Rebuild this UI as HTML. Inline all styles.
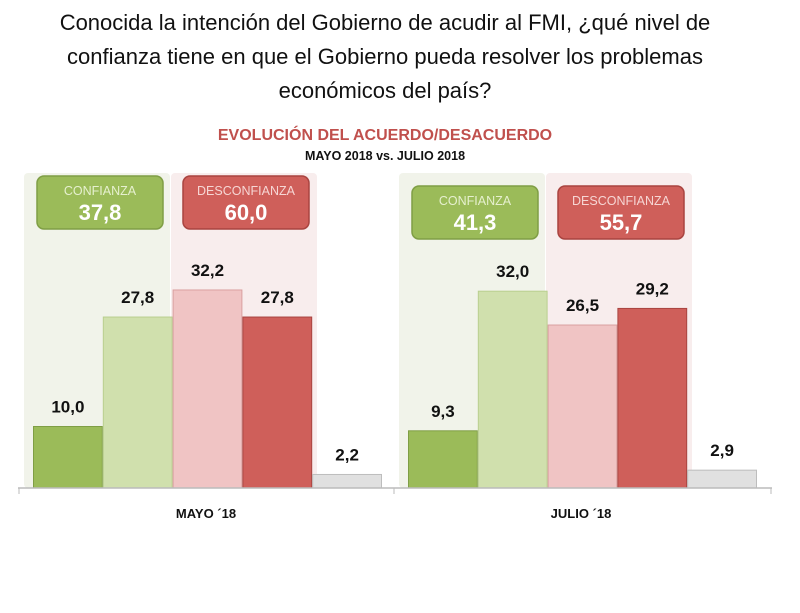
<!DOCTYPE html>
<html><head><meta charset="utf-8"><style>
body{margin:0;background:#fff;width:800px;height:608px;overflow:hidden;font-family:"Liberation Sans",sans-serif}
</style></head><body>
<svg width="800" height="608" font-family="Liberation Sans, sans-serif">
<g font-size="22" fill="#111" text-anchor="middle">
<text x="385" y="30">Conocida la intención del Gobierno de acudir al FMI, ¿qué nivel de</text>
<text x="385" y="64">confianza tiene en que el Gobierno pueda resolver los problemas</text>
<text x="385" y="98">económicos del país?</text>
</g>
<text x="385" y="140" text-anchor="middle" font-size="16" font-weight="bold" fill="#c0504d">EVOLUCIÓN DEL ACUERDO/DESACUERDO</text>
<text x="385" y="160" text-anchor="middle" font-size="12.5" font-weight="bold" fill="#111">MAYO 2018 vs. JULIO 2018</text>
<g id="panels"></g>
<g id="bars"></g>
<line x1="18" y1="488" x2="772" y2="488" stroke="#bbb" stroke-width="1.5"/>
<line x1="19" y1="488" x2="19" y2="494" stroke="#bbb"/><line x1="394" y1="488" x2="394" y2="494" stroke="#bbb"/><line x1="771" y1="488" x2="771" y2="494" stroke="#bbb"/>
<g id="labels"></g>
</svg>
<script>
const groups=["MAYO ´18","JULIO ´18"];
const confianza=[37.8,41.3];
const desconfianza=[60.0,55.7];
const mayoValues=[10.0,27.8,32.2,27.8,2.2];
const julioValues=[9.3,32.0,26.5,29.2,2.9];
const series=[mayoValues,julioValues];
const NS="http://www.w3.org/2000/svg";
const base=488, scale=6.15, barW=69.8;
const groupX=[33,408];
const fills=["#9bbb59","#d0e0ad","#f0c4c4","#cf5f5a","#e0e0e0"];
const strokes=["#7f9e45","#b9cf8f","#d9a0a0","#a94440","#bdbdbd"];
const y=v=>base-v*scale;
function mk(tag,attrs,parent){const e=document.createElementNS(NS,tag);for(const k in attrs)e.setAttribute(k,attrs[k]);parent.appendChild(e);return e;}
const P=document.getElementById('panels'),B=document.getElementById('bars'),L=document.getElementById('labels');
const fmt=v=>v.toFixed(1).replace('.',',');
groups.forEach((g,gi)=>{
  const gx=groupX[gi];
  const pg=mk('rect',{x:gx-9,y:173,width:146,height:315,rx:4,fill:'#f1f3ea'},P);
  
  
  const pr=mk('rect',{x:gx+138,y:173,width:146,height:315,rx:4,fill:'#f8eded'},P);
  
  
  const bxs=[[gx+4,'#9bbb59','#7f9e45','#e6f0cf','CONFIANZA',confianza[gi]],[gx+150,'#cf5f5a','#a94440','#f6d6d4','DESCONFIANZA',desconfianza[gi]]];
  const by=gi===0?176:186;
  bxs.forEach((b,bi)=>{
    const r=mk('rect',{x:b[0],y:by,width:126,height:53,rx:7,fill:b[1],stroke:b[2],'stroke-width':1.5},P);
    
    
    const t1=mk('text',{x:b[0]+63,y:by+19,'text-anchor':'middle','font-size':12.5,fill:b[3]},P);t1.textContent=b[4];
    
    
    const t2=mk('text',{x:b[0]+63,y:by+44,'text-anchor':'middle','font-size':22,'font-weight':'bold',fill:'#fff'},P);t2.textContent=fmt(b[5]);
    
    
  });
  series[gi].forEach((v,i)=>{
    const x=gx+i*barW;
    const r=mk('rect',{x:x+0.5,y:y(v),width:barW-1,height:v*scale,fill:fills[i],stroke:strokes[i],'stroke-width':1},B);
    
    
    const t=mk('text',{x:x+barW/2,y:y(v)-14,'text-anchor':'middle','font-size':17,'font-weight':'bold',fill:'#111'},L);t.textContent=fmt(v);
    
    
  });
  const gl=mk('text',{x:gx+173,y:518,'text-anchor':'middle','font-size':13,'font-weight':'bold',fill:'#111'},L);gl.textContent=g;
  
  
});
</script>
</body></html>
